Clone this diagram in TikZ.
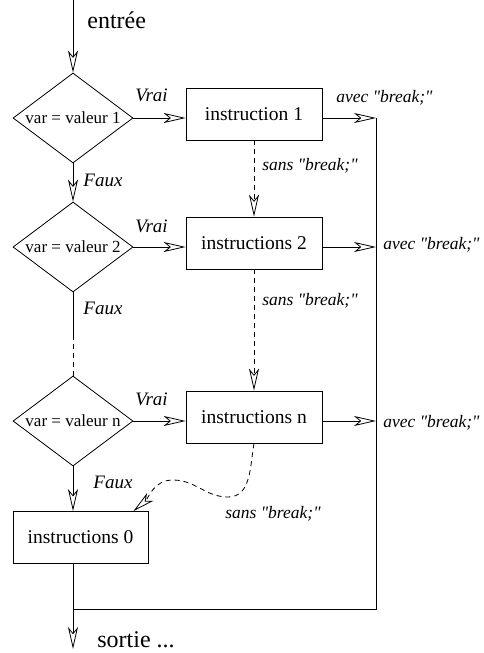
\documentclass[tikz,border=0pt]{standalone}
\usepackage{fontspec}
\setmainfont{Liberation Serif}
\usetikzlibrary{shapes.geometric, arrows.meta, positioning}
\newcommand{\brq}{\textquotedbl}
\tikzstyle{test} = [diamond, draw, text centered, minimum width=120pt, minimum height=90pt, inner sep=0pt, aspect=1.33, font=\fontsize{17}{18}\selectfont]
\tikzstyle{instr} = [rectangle, draw, text centered, minimum width=136pt, minimum height=52pt, font=\fontsize{19.5}{22}\selectfont]
\tikzstyle{arrow} = [-{Stealth[open, length=22pt, width=10pt, inset=6pt]}]
\tikzstyle{nobreak} = [arrow, dash pattern=on 5pt off 4pt]
\tikzstyle{lbl} = [anchor=base west, inner sep=0pt, font=\itshape\fontsize{19}{22}\selectfont]
\tikzstyle{brk} = [anchor=base west, inner sep=0pt, font=\itshape\fontsize{17.5}{20}\selectfont]
\tikzstyle{io} = [anchor=base west, inner sep=0pt, font=\fontsize{24}{28}\selectfont]

\begin{document}
\begin{tikzpicture}[x=1pt, y=1pt, line width=0.8pt]
        \useasboundingbox (0,0) rectangle (484,-653);
        % tests
        \node[test] (d1) at (73,-118) {var = valeur 1};
        \node[test] (d2) at (73,-247) {var = valeur 2};
        \node[test] (d3) at (73,-421) {var = valeur n};
        % instruction blocks
        \node[instr] (b1) at (254,-114) {instruction 1};
        \node[instr] (b2) at (254,-243) {instructions 2};
        \node[instr] (bn) at (254,-417) {instructions n};
        \node[instr, minimum width=135pt] (b0) at (80.5,-537.5) {instructions 0};
        \coordinate (entree) at (73,0);
        \coordinate (sortie) at (73,-649);
        \coordinate (coupe) at (73,-335);
        \coordinate (fin) at (376,-609);
        \coordinate (creux) at (228,-497);
        \coordinate (bosse) at (173,-480);
        % main line
        \draw[arrow] (entree) -- (d1.north);
        \draw[arrow] (d1.south) -- (d2.north);
        \draw (d2.south) -- (coupe);
        \draw[dash pattern=on 5pt off 4pt] (coupe) -- (d3.north);
        \draw[arrow] (d3.south) -- (d3.south |- b0.north);
        \draw[arrow] (sortie |- b0.south) -- (sortie);
        % Vrai branches
        \draw[arrow] (d1.east) -- (d1.east -| b1.west);
        \draw[arrow] (d2.east) -- (d2.east -| b2.west);
        \draw[arrow] (d3.east) -- (d3.east -| bn.west);
        \draw[arrow] (d1.east -| b1.east) -- (d1.east -| fin);
        \draw[arrow] (d2.east -| b2.east) -- (d2.east -| fin);
        \draw[arrow] (d3.east -| bn.east) -- (d3.east -| fin);
        \draw (d1.east -| fin) -- (fin) -- (fin -| sortie);
        % fall through
        \draw[nobreak] (b1.south) -- (b2.north);
        \draw[nobreak] (b2.south) -- (bn.north);
        \draw[nobreak] (bn.south) to[out=-100, in=0] (creux) to[out=180, in=0] (bosse) to[out=180, in=40] ([xshift=-15pt]b0.north east);
        % labels
        \node[io] (tin) at (87,-28) {entrée};
        \node[io] (tout) at (97,-647) {sortie ...};
        \node[lbl] (v1) at (135,-101) {Vrai};
        \node[lbl] (v2) at (135,-232) {Vrai};
        \node[lbl] (v3) at (135,-405) {Vrai};
        \node[lbl] (f1) at (83,-186) {Faux};
        \node[lbl] (f2) at (83,-314) {Faux};
        \node[lbl] (f3) at (93,-488) {Faux};
        \node[brk] (a1) at (336,-102) {avec \brq break;\brq};
        \node[brk] (a2) at (383,-249) {avec \brq break;\brq};
        \node[brk] (a3) at (383,-427) {avec \brq break;\brq};
        \node[brk] (s1) at (262,-170) {sans \brq break;\brq};
        \node[brk] (s2) at (262,-305) {sans \brq break;\brq};
        \node[brk] (s3) at (225,-518) {sans \brq break;\brq};
    \end{tikzpicture}
\end{document}
